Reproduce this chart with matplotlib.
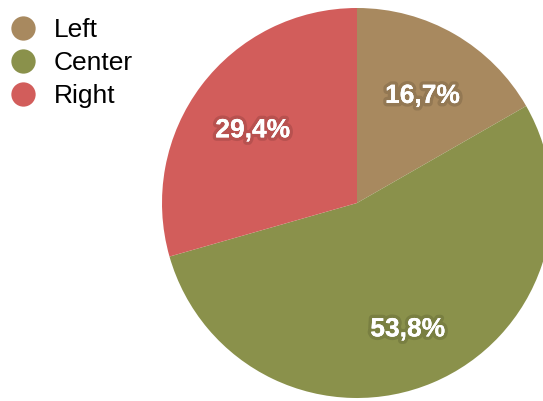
import numpy as np
import matplotlib.pyplot as plt
import matplotlib.patheffects as pe
from matplotlib.lines import Line2D

# Share of answers per position
labels = ['Left', 'Center', 'Right']
shares = [16.7, 53.8, 29.4]
colors = ['#A8895F', '#8A914B', '#D25D5B']

plt.rcParams['font.family'] = ['Liberation Sans', 'DejaVu Sans']

W, H = 543, 401
fig = plt.figure(figsize=(W/100, H/100), dpi=100)
ax = fig.add_axes([0, 0, 1, 1])

wedges, texts, autotexts = ax.pie(
    shares, colors=colors, startangle=90, counterclock=False,
    center=(357, H-203), radius=195, autopct=lambda p: '',
    pctdistance=0.67, frame=True)
ax.set_xlim(0, W)
ax.set_ylim(0, H)
ax.set_aspect('equal')
ax.axis('off')

for t, v in zip(autotexts, shares):
    x, y = t.get_position()
    t.set_position((x, y - 6))
    t.set_text(('%.1f%%' % v).replace('.', ','))
    t.set_color('white')
    t.set_fontsize(19)
    t.set_fontweight('bold')
    t.set_path_effects([pe.withStroke(linewidth=5, foreground=(0, 0, 0, 0.12)),
                        pe.SimpleLineShadow(offset=(1.5, -2.5), shadow_color='k', alpha=0.5),
                        pe.Normal()])

handles = [Line2D([], [], marker='o', ls='none', markersize=17.5,
                  markerfacecolor=c, markeredgecolor='none') for c in colors]
ax.legend(handles, labels, loc='upper left', bbox_to_anchor=(-8/W, 1),
          bbox_transform=fig.transFigure, frameon=False, fontsize=19,
          handlelength=0.95, handletextpad=0.7, labelspacing=0.33,
          borderaxespad=0.45, borderpad=0.25)

fig.savefig('out.png', dpi=100)
